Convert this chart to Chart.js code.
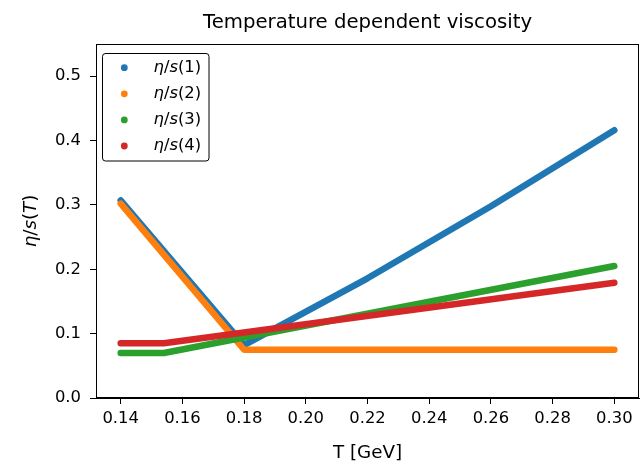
<!DOCTYPE html>
<html><head><meta charset="utf-8">
<script src="https://cdn.jsdelivr.net/npm/chart.js@4"></script>
<style>html,body{margin:0;padding:0;background:#fff}</style>
</head><body>
<canvas id="c" width="644" height="465"></canvas>
<script>
// ---- data ----
const T1 = [0.14, 0.18, 0.22, 0.26, 0.30];
const eta1 = [0.307, 0.082, 0.186, 0.298, 0.416];
const T2 = [0.14, 0.18, 0.30];
const eta2 = [0.302, 0.075, 0.075];
const T3 = [0.14, 0.154, 0.30];
const eta3 = [0.070, 0.070, 0.205];
const T4 = [0.14, 0.154, 0.30];
const eta4 = [0.085, 0.085, 0.179];
const seriesLabels = ['1', '2', '3', '4'];
const xTicks = [0.14, 0.16, 0.18, 0.20, 0.22, 0.24, 0.26, 0.28, 0.30];
const yTicks = [0.0, 0.1, 0.2, 0.3, 0.4, 0.5];
const titleText = 'Temperature dependent viscosity';
const xLabelText = 'T [GeV]';

const colors = ['#1f77b4', '#ff7f0e', '#2ca02c', '#d62728'];
const FONT = '"DejaVu Sans", "Liberation Sans", sans-serif';
const FS = 16.4;
const LFS = 18.3;

function pts(xs, ys) { return xs.map((x, i) => ({x: x, y: ys[i]})); }
const allT = [T1, T2, T3, T4], allE = [eta1, eta2, eta3, eta4];

const datasets = allT.map((t, i) => ({
  label: 'η/s(' + seriesLabels[i] + ')',
  data: pts(t, allE[i]),
  showLine: true,
  borderColor: colors[i],
  backgroundColor: colors[i],
  borderWidth: 6.5,
  borderCapStyle: 'round',
  borderJoinStyle: 'round',
  pointRadius: 0,
  pointHoverRadius: 0,
  tension: 0,
  order: 3 - i
}));

function drawParts(ctx, parts, x, y, align) {
  let total = 0;
  parts.forEach(p => { ctx.font = (p.it ? 'italic ' : '') + p.fs + 'px ' + FONT; p.w = ctx.measureText(p.t).width; total += p.w; });
  let cx = align === 'center' ? x - total / 2 : x;
  ctx.textAlign = 'left';
  ctx.textBaseline = 'middle';
  parts.forEach(p => { ctx.font = (p.it ? 'italic ' : '') + p.fs + 'px ' + FONT; ctx.fillText(p.t, cx, y); cx += p.w; });
}

const deco = {
  id: 'deco',
  afterDraw(chart) {
    const ctx = chart.ctx, a = chart.chartArea;
    ctx.save();
    // spines
    ctx.strokeStyle = '#000'; ctx.lineWidth = 1;
    const L = Math.round(a.left) + 0.5, R = Math.round(a.right) - 0.5, Tp = Math.round(a.top) + 0.5, B = Math.round(a.bottom) - 0.5;
    ctx.strokeRect(L, Tp, R - L, B - Tp);
    // title
    ctx.fillStyle = '#000';
    ctx.font = '19.7px ' + FONT;
    ctx.textAlign = 'center'; ctx.textBaseline = 'middle';
    ctx.fillText(titleText, (a.left + a.right) / 2, 23);
    // x label
    ctx.font = LFS + 'px ' + FONT;
    ctx.fillText(xLabelText, (a.left + a.right) / 2, 453);
    // y label
    ctx.save();
    ctx.translate(31, (a.top + a.bottom) / 2);
    ctx.rotate(-Math.PI / 2);
    drawParts(ctx, [{t:'η', it:true, fs:LFS}, {t:'/', it:false, fs:LFS}, {t:'s', it:true, fs:LFS}, {t:'(', it:false, fs:LFS}, {t:'T', it:true, fs:LFS}, {t:')', it:false, fs:LFS}], 0, 0, 'center');
    ctx.restore();
    // legend
    const bx = 102, by = 53, bw = 107, bh = 108, r = 3;
    ctx.beginPath();
    ctx.moveTo(bx + r, by + 0.5);
    ctx.arcTo(bx + bw, by + 0.5, bx + bw, by + bh, r);
    ctx.arcTo(bx + bw, by + bh, bx, by + bh, r);
    ctx.arcTo(bx + 0.5, by + bh, bx + 0.5, by, r);
    ctx.arcTo(bx + 0.5, by + 0.5, bx + bw, by + 0.5, r);
    ctx.closePath();
    ctx.fillStyle = '#fff'; ctx.fill();
    ctx.strokeStyle = '#000'; ctx.lineWidth = 1; ctx.stroke();
    seriesLabels.forEach((s, i) => {
      const yy = 67.7 + i * 26.1;
      ctx.beginPath();
      ctx.arc(124.3, yy, 3.4, 0, Math.PI * 2);
      ctx.fillStyle = colors[i]; ctx.fill();
      ctx.fillStyle = '#000';
      drawParts(ctx, [{t:'η', it:true, fs:FS}, {t:'/', it:false, fs:FS}, {t:'s', it:true, fs:FS}, {t:'(' + s + ')', it:false, fs:FS}], 153.5, yy, 'left');
    });
    ctx.restore();
  }
};

new Chart(document.getElementById('c'), {
  type: 'scatter',
  data: { datasets: datasets },
  options: {
    responsive: false,
    animation: false,
    devicePixelRatio: 1,
    layout: { padding: { top: 44, right: 5, left: 0, bottom: 0 } },
    plugins: { legend: { display: false }, title: { display: false }, tooltip: { enabled: false } },
    scales: {
      x: {
        type: 'linear', min: 0.132, max: 0.308,
        afterBuildTicks: s => { s.ticks = xTicks.map(v => ({value: v})); },
        afterFit: s => { s.height = 67; },
        ticks: { color: '#000', font: { family: FONT, size: FS }, padding: 5, maxRotation: 0, autoSkip: false,
                 callback: v => v.toFixed(2) },
        grid: { display: true, drawOnChartArea: false, drawTicks: true, tickLength: 6, tickColor: '#000', tickWidth: 1 },
        border: { display: true, color: '#000', width: 1 }
      },
      y: {
        type: 'linear', min: 0, max: 0.55,
        afterBuildTicks: s => { s.ticks = yTicks.map(v => ({value: v})); },
        afterFit: s => { s.width = 96; },
        ticks: { color: '#000', font: { family: FONT, size: FS }, padding: 9, autoSkip: false,
                 callback: v => v.toFixed(1) },
        grid: { display: true, drawOnChartArea: false, drawTicks: true, tickLength: 6, tickColor: '#000', tickWidth: 1 },
        border: { display: true, color: '#000', width: 1 }
      }
    }
  },
  plugins: [deco]
});
</script>
</body></html>
